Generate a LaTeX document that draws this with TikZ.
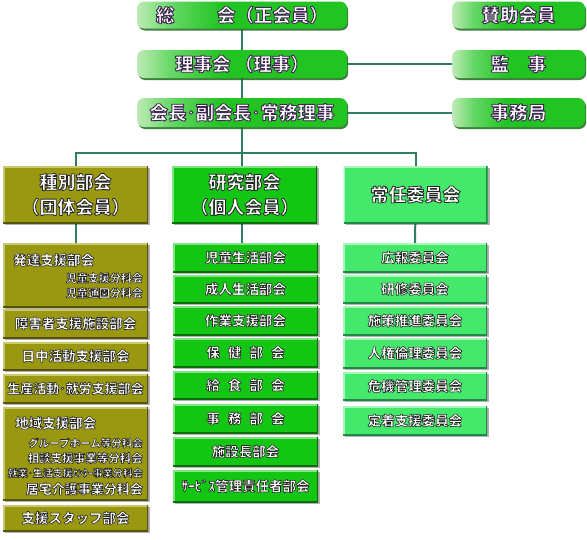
\documentclass[tikz,border=0pt]{standalone}
\usepackage{fontspec}
\setmainfont{Noto Sans CJK JP}
\usetikzlibrary{shadows}
\definecolor{topL}{HTML}{BDEBB5}
\definecolor{topM}{HTML}{66D866}
\definecolor{topG}{HTML}{22C422}
\definecolor{topD}{HTML}{1A6A1A}
\definecolor{olv}{HTML}{9A9810}
\definecolor{olvL}{HTML}{C9C86E}
\definecolor{olvD}{HTML}{55540A}
\definecolor{grn}{HTML}{14C614}
\definecolor{grnL}{HTML}{80E480}
\definecolor{grnD}{HTML}{0B6E0B}
\definecolor{lgr}{HTML}{44E86A}
\definecolor{lgrL}{HTML}{A8F6B8}
\definecolor{lgrD}{HTML}{228846}
\definecolor{conc}{HTML}{2F7F5F}
\pgfdeclarehorizontalshading{topsh}{100bp}{color(0bp)=(topL); color(25bp)=(topL); color(33bp)=(topM); color(45bp)=(topG); color(75bp)=(topG); color(100bp)=(topG)}
\pgfdeclarelayer{background}
\pgfsetlayers{background,main}
\newcommand\ocol{0.15 0.15 0.15}
\newcommand\owd{0.6}
\newcommand\otext[1]{\special{pdf:literal direct q 2 Tr \owd\space w 1 j \ocol\space RG}#1\special{pdf:literal direct Q}}
\tikzset{
  conn/.style={draw=conc, line width=2pt},
  topbox/.style={shading=topsh, rounded corners=7pt, inner sep=0pt, text=white,
    minimum height=27pt,
    drop shadow={shadow xshift=1.2pt, shadow yshift=-2pt, fill=topD, opacity=.85},
    font=\def\ocol{0.25 0.15 0.32}\def\owd{0.9}\bfseries\fontsize{18.5}{20}\selectfont},
  bev/.style n args={3}{fill=#1, inner sep=0pt, text=white,
    path picture={
      \draw[#2, line width=3pt] (path picture bounding box.south west) -- (path picture bounding box.north west) -- (path picture bounding box.north east);
      \draw[#3, line width=3pt] (path picture bounding box.north east) -- (path picture bounding box.south east) -- (path picture bounding box.south west);},
    drop shadow={shadow xshift=2pt, shadow yshift=-2pt, fill=black, opacity=.3}},
  catfont/.style={font=\def\owd{0.8}\bfseries\fontsize{18}{25}\selectfont, align=center},
  subfont/.style={font=\bfseries\fontsize{13.5}{16}\selectfont},
  c1/.style={bev={olv}{olvL}{olvD}, minimum width=145pt},
  c2/.style={bev={grn}{grnL}{grnD}, minimum width=145pt},
  c3/.style={bev={lgr}{lgrL}{lgrD}, minimum width=144pt},
  intext/.style={inner sep=0pt, text=white},
}
\begin{document}
\begin{tikzpicture}[x=1pt,y=-1pt]
\begin{pgfonlayer}{background}
\fill[white] (0,0) rectangle (587,539);
\end{pgfonlayer}
\useasboundingbox (0,0) rectangle (587,539);
% top
\node[topbox, minimum width=210pt] (gen) at (242,15) {\otext{総\hspace{2.3em}会（正会員）}};
\node[topbox, minimum width=133pt] (san) at (518.5,15) {\otext{賛助会員}};
\node[topbox, minimum width=210pt, minimum height=28pt] (rij) at (242,64) {\otext{理事会 （理事）}};
\node[topbox, minimum width=133pt, minimum height=28pt] (kan) at (518.5,64) {\otext{監\hspace{1em}事}};
\node[topbox, minimum width=210pt, minimum height=29pt] (kai) at (242,112.5) {\otext{会長･副会長･常務理事}};
\node[topbox, minimum width=133pt, minimum height=29pt] (jim) at (518.5,112.5) {\otext{事務局}};
% categories
\node[c1, minimum height=57pt, catfont] (cat1) at (75.5,194.5) {\otext{種別部会}\\\otext{（団体会員）}};
\node[c2, minimum height=57pt, catfont] (cat2) at (244.5,194.5) {\otext{研究部会}\\\otext{（個人会員）}};
\node[c3, minimum height=57pt, catfont] (cat3) at (415.5,194.5) {\otext{常任委員会}};
% column 1
\node[c1, minimum height=64pt] (hat) at (75.5,275) {};
\node[intext, subfont, anchor=west] (hat1) at (13,260) {\otext{発達支援部会}};
\node[intext, font=\bfseries\fontsize{11}{13}\selectfont, anchor=east] (hat2) at (143,278) {\otext{児童支援分科会}};
\node[intext, font=\bfseries\fontsize{11}{13}\selectfont, anchor=east] (hat3) at (143,293) {\otext{児童通園分科会}};
\node[c1, minimum height=29pt, subfont] (sho) at (75.5,323.5) {\otext{障害者支援施設部会}};
\node[c1, minimum height=28pt, subfont] (nic) at (75.5,356) {\otext{日中活動支援部会}};
\node[c1, minimum height=29pt, font=\bfseries\fontsize{13}{16}\selectfont] (sei) at (75.5,388.5) {\otext{生産活動･就労支援部会}};
\node[c1, minimum height=93pt] (chi) at (75.5,453.5) {};
\node[intext, subfont, anchor=west] (chi1) at (15,423) {\otext{地域支援部会}};
\node[intext, font=\bfseries\fontsize{10.5}{13}\selectfont, anchor=east] (chi2) at (143,443) {\otext{グループホーム等分科会}};
\node[intext, font=\bfseries\fontsize{11.5}{13}\selectfont, anchor=east] (chi3) at (143,458) {\otext{相談支援事業等分科会}};
\node[intext, font=\bfseries\fontsize{10}{12}\selectfont, anchor=east] (chi4) at (143,473) {\otext{就業･生活支援ｾﾝﾀｰ事業分科会}};
\node[intext, font=\bfseries\fontsize{13}{15}\selectfont, anchor=east] (chi5) at (143,489) {\otext{居宅介護事業分科会}};
\node[c1, minimum height=26pt, subfont] (sta) at (75.5,518) {\otext{支援スタッフ部会}};
% column 2
\node[c2, minimum height=29pt, subfont] (ji) at (245.5,257.5) {\otext{児童生活部会}};
\node[c2, minimum height=28pt, subfont] (se) at (245.5,289) {\otext{成人生活部会}};
\node[c2, minimum height=29pt, subfont] (sa) at (245.5,320.5) {\otext{作業支援部会}};
\node[c2, minimum height=29pt, subfont] (ho) at (245.5,352.5) {\otext{保\hspace{.6em}健\hspace{.6em}部\hspace{.6em}会}};
\node[c2, minimum height=28pt, subfont] (ky) at (245.5,385) {\otext{給\hspace{.6em}食\hspace{.6em}部\hspace{.6em}会}};
\node[c2, minimum height=29pt, subfont] (jm) at (245.5,418.5) {\otext{事\hspace{.6em}務\hspace{.6em}部\hspace{.6em}会}};
\node[c2, minimum height=29pt, subfont] (sh) at (245.5,451.5) {\otext{施設長部会}};
\node[c2, minimum height=32pt, subfont] (sv) at (245.5,486) {\otext{ｻｰﾋﾞｽ管理責任者部会}};
% column 3
\node[c3, minimum height=29pt, subfont] (ko) at (415,257.5) {\otext{広報委員会}};
\node[c3, minimum height=28pt, subfont] (ke) at (415,289) {\otext{研修委員会}};
\node[c3, minimum height=29pt, subfont] (si) at (415,320.5) {\otext{施策推進委員会}};
\node[c3, minimum height=30pt, subfont] (jn) at (415,353) {\otext{人権倫理委員会}};
\node[c3, minimum height=28pt, subfont] (ki) at (415,386) {\otext{危機管理委員会}};
\node[c3, minimum height=29pt, subfont] (te) at (415,420.5) {\otext{定着支援委員会}};
% connectors
\begin{pgfonlayer}{background}
\coordinate (bus) at (242,153);
\draw[conn] (gen.south) -- (rij.north);
\draw[conn] (rij.south) -- (kai.north);
\draw[conn] (rij) -- (kan);
\draw[conn] (kai) -- (jim);
\draw[conn] (kai.south) -- (bus);
\draw[conn] (cat1.north) |- (bus) -| (cat3.north);
\draw[conn] (bus) -- (bus |- cat2.north);
\draw[conn] (cat1) -- (hat);
\draw[conn] (cat2.south -| bus) -- (bus |- ji.north);
\draw[conn] (cat3) -- (ko);
\end{pgfonlayer}
\end{tikzpicture}
\end{document}
